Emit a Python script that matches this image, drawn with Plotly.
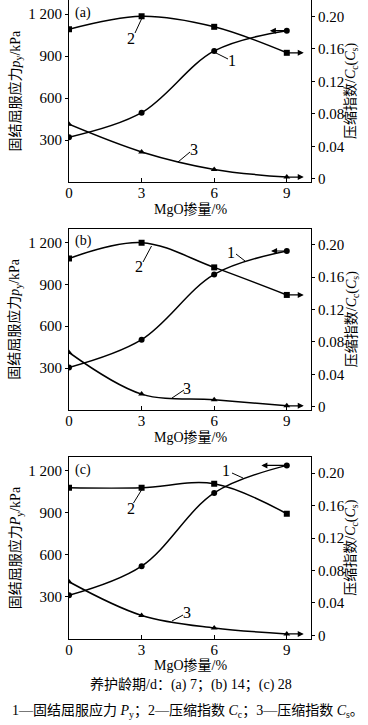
import plotly.graph_objects as go

# ---------------- data ----------------
mgo = [0, 3, 6, 9]
x_tickvals = [0, 3, 6, 9]
x_ticktext = ["0", "3", "6", "9"]
left_tickvals = [300, 600, 900, 1200]
left_ticktext = ["300", "600", "900", "1 200"]
right_tickvals = [0, 0.04, 0.08, 0.12, 0.16, 0.20]
right_ticktext = ["0", "0.04", "0.08", "0.12", "0.16", "0.20"]

py_a = [320, 495, 936, 1081]
cc_a = [0.184, 0.200, 0.187, 0.155]
cs_a = [0.067, 0.033, 0.0115, 0.002]

py_b = [305, 504, 971, 1139]
cc_b = [0.183, 0.2025, 0.172, 0.138]
cs_b = [0.067, 0.0156, 0.0086, 0.0012]

py_c = [309, 518, 1043, 1240]
cc_c = [0.182, 0.182, 0.187, 0.150]
cs_c = [0.066, 0.0245, 0.009, 0.0017]

panel_tags = ["(a)", "(b)", "(c)"]
left_titles = ["固结屈服应力<i>p</i><sub>y</sub>/kPa",
               "固结屈服应力<i>p</i><sub>y</sub>/kPa",
               "固结屈服应力<i>P</i><sub>y</sub>/kPa"]
right_title = "压缩指数/<i>C</i><sub>c</sub>(<i>C</i><sub>s</sub>)"
x_title = "MgO掺量/%"
caption1 = "养护龄期/d：(a) 7；(b) 14；(c) 28"
caption2 = ("1—固结屈服应力 <i>P</i><sub>y</sub>；2—压缩指数 <i>C</i><sub>c</sub>；"
            "3—压缩指数 <i>C</i><sub>s</sub>。")

# ---------------- layout helpers ----------------
W, H = 368, 725
SERIF = "Liberation Serif, Noto Sans CJK SC"
def fx(x):
    return x / W
def fy(y):
    return 1 - y / H

plot_left, plot_right = 69, 311
tops = [0, 228.5, 457]
bottoms = [182, 410, 638.5]

panels = [
    dict(py=py_a, cc=cc_a, cs=cs_a, arrow1=8.3, arrow2=9.7, arrow3=9.7,
         labels=[("2", 131, 38, (135, 33), (141.5, 19)),
                 ("1", 232, 61, (228, 59), (214, 52)),
                 ("3", 194, 150, (190, 152), (178, 162))]),
    dict(py=py_b, cc=cc_b, cs=cs_b, arrow1=8.35, arrow2=9.7, arrow3=9.7,
         labels=[("2", 139, 267, (143, 262), (151.5, 246)),
                 ("1", 231, 252, (236, 254), (245, 261)),
                 ("3", 187, 388, (184, 390), (172, 398))]),
    dict(py=py_c, cc=cc_c, cs=cs_c, arrow1=7.95, arrow2=None, arrow3=9.7,
         labels=[("2", 131, 508, (133.5, 503), (141.5, 490)),
                 ("1", 226, 470, (232, 473), (243, 478)),
                 ("3", 187, 612, (183, 615), (172, 621))]),
]

fig = go.Figure()
annotations = []
shapes = []
line_style = dict(color="black", width=1.5, shape="spline")
tick_font = dict(family=SERIF, size=15, color="black")

for i, p in enumerate(panels):
    xn = "x" if i == 0 else f"x{i+1}"
    yl = "y" if i == 0 else f"y{2*i+1}"
    yr = f"y{2*i+2}"
    xk = "xaxis" if i == 0 else f"xaxis{i+1}"
    ylk = "yaxis" if i == 0 else f"yaxis{2*i+1}"
    yrk = f"yaxis{2*i+2}"

    fig.add_trace(go.Scatter(x=mgo, y=p["py"], mode="lines+markers", xaxis=xn, yaxis=yl,
                             line=line_style, marker=dict(symbol="circle", size=6, color="black"),
                             showlegend=False))
    fig.add_trace(go.Scatter(x=mgo, y=p["cc"], mode="lines+markers", xaxis=xn, yaxis=yr,
                             line=line_style, marker=dict(symbol="square", size=6, color="black"),
                             showlegend=False))
    fig.add_trace(go.Scatter(x=mgo, y=p["cs"], mode="lines+markers", xaxis=xn, yaxis=yr,
                             line=line_style, marker=dict(symbol="triangle-up", size=6, color="black"),
                             showlegend=False))

    dom_y = [fy(bottoms[i]), fy(tops[i])]
    fig.layout[xk] = dict(domain=[fx(plot_left), fx(plot_right)], range=[0, 10], anchor=yl,
                          tickvals=x_tickvals, ticktext=x_ticktext, ticks="inside", ticklen=4,
                          tickcolor="black", showline=True, linecolor="black", linewidth=1,
                          mirror=(i != 0), showgrid=False, zeroline=False, tickfont=tick_font,
                          automargin=False, ticklabelstandoff=-3)
    fig.layout[ylk] = dict(domain=dom_y, range=[0, 1300], anchor=xn,
                           tickvals=left_tickvals, ticktext=left_ticktext, ticks="outside",
                           ticklen=3, tickcolor="black", showline=True, linecolor="black",
                           linewidth=1, showgrid=False, zeroline=False, tickfont=tick_font,
                           automargin=False)
    fig.layout[yrk] = dict(domain=dom_y, range=[-0.004, 0.22], anchor=xn, overlaying=yl,
                           side="right", tickvals=right_tickvals, ticktext=right_ticktext,
                           ticks="outside", ticklen=3, tickcolor="black", showline=True,
                           linecolor="black", linewidth=1, showgrid=False, zeroline=False,
                           tickfont=tick_font, automargin=False)

    # arrows pointing to the relevant axis
    arr = dict(showarrow=True, text="", arrowhead=2, arrowsize=1, arrowwidth=1.2,
               arrowcolor="black", standoff=0, startstandoff=0, xref=xn, axref=xn)
    annotations.append(dict(arr, x=p["arrow1"], y=p["py"][-1], ax=mgo[-1], ay=p["py"][-1],
                            yref=yl, ayref=yl))
    if p["arrow2"] is not None:
        annotations.append(dict(arr, x=p["arrow2"], y=p["cc"][-1], ax=mgo[-1], ay=p["cc"][-1],
                                yref=yr, ayref=yr))
    annotations.append(dict(arr, x=p["arrow3"], y=p["cs"][-1], ax=mgo[-1], ay=p["cs"][-1],
                            yref=yr, ayref=yr))

    # curve labels with leader lines
    for txt, tx, ty, (x0, y0), (x1, y1) in p["labels"]:
        annotations.append(dict(text=txt, x=fx(tx), y=fy(ty), xref="paper", yref="paper",
                                showarrow=False, xanchor="center", yanchor="middle",
                                font=dict(family=SERIF, size=16, color="black")))
        shapes.append(dict(type="line", xref="paper", yref="paper", x0=fx(x0), y0=fy(y0),
                           x1=fx(x1), y1=fy(y1), line=dict(color="black", width=1)))

    # panel tag
    annotations.append(dict(text=panel_tags[i], x=fx(73), y=fy(tops[i] + 12.5), xref="paper",
                            yref="paper", showarrow=False, xanchor="left", yanchor="middle",
                            font=dict(family=SERIF, size=14, color="black")))
    # axis titles
    mid = (tops[i] + bottoms[i]) / 2
    annotations.append(dict(text=left_titles[i], x=fx(15.5), y=fy(mid), xref="paper", yref="paper",
                            showarrow=False, textangle=-90, xanchor="center", yanchor="middle",
                            font=dict(family=SERIF, size=14, color="black")))
    annotations.append(dict(text=right_title, x=fx(352), y=fy(mid), xref="paper", yref="paper",
                            showarrow=False, textangle=-90, xanchor="center", yanchor="middle",
                            font=dict(family=SERIF, size=14, color="black")))
    annotations.append(dict(text=x_title, x=fx((plot_left + plot_right) / 2), y=fy(bottoms[i] + 26.5),
                            xref="paper", yref="paper", showarrow=False, xanchor="center",
                            yanchor="middle", font=dict(family=SERIF, size=14, color="black")))

annotations.append(dict(text=caption1, x=fx(191), y=fy(685), xref="paper", yref="paper",
                        showarrow=False, xanchor="center", yanchor="middle",
                        font=dict(family=SERIF, size=14, color="black")))
annotations.append(dict(text=caption2, x=fx(188), y=fy(711), xref="paper", yref="paper",
                        showarrow=False, xanchor="center", yanchor="middle",
                        font=dict(family=SERIF, size=14, color="black")))

fig.update_layout(width=W, height=H, margin=dict(l=0, r=0, t=0, b=0),
                  paper_bgcolor="white", plot_bgcolor="white",
                  annotations=annotations, shapes=shapes, showlegend=False)

fig.write_html("out.html", config={"displayModeBar": False},
               post_script="document.body.style.margin='0';document.body.style.padding='0';")
